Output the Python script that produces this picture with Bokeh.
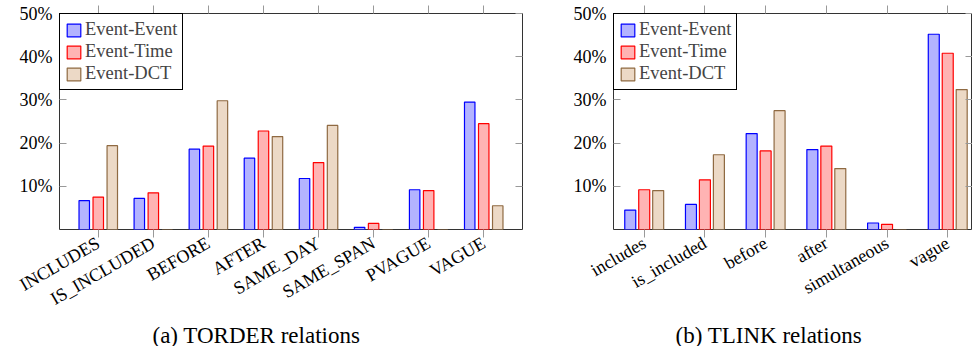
import math
from bokeh.plotting import figure
from bokeh.models import (Range1d, FixedTicker, LinearAxis, Title, Legend,
                          LegendItem, ColumnDataSource)
from bokeh.transform import dodge
from bokeh.layouts import row
from bokeh.embed import file_html
from bokeh.resources import INLINE

# ---- data ----
torder_cats = ["INCLUDES", "IS_INCLUDED", "BEFORE", "AFTER", "SAME_DAY",
               "SAME_SPAN", "PVAGUE", "VAGUE"]
torder_ee = [6.7, 7.2, 18.6, 16.5, 11.8, 0.5, 9.2, 29.5]
torder_et = [7.5, 8.5, 19.3, 22.8, 15.5, 1.4, 9.0, 24.5]
torder_dct = [19.4, 0.0, 29.8, 21.5, 24.1, 0.0, 0.0, 5.5]

tlink_cats = ["includes", "is_included", "before", "after", "simultaneous", "vague"]
tlink_ee = [4.5, 5.8, 22.2, 18.5, 1.5, 45.2]
tlink_et = [9.2, 11.5, 18.2, 19.3, 1.2, 40.8]
tlink_dct = [9.0, 17.3, 27.5, 14.1, 0.0, 32.4]

y_ticks = [10, 20, 30, 40, 50]
y_tick_labels = {t: f"{t}%" for t in y_ticks}
series_names = ["Event-Event", "Event-Time", "Event-DCT"]
captions = ["(a) TORDER relations", "(b) TLINK relations"]

FILLS = ["#b3b3ff", "#ffb3b3", "#ecd9c6"]
LINES = ["#0000ff", "#ff0000", "#8f6a42"]
FONT = "Liberation Serif"
TICK_COLOR = "#999999"


def make(cats, ee, et, dct, caption, x_start, x_end, off, width, fw,
         mbl, mbr, cap_offset, cap_standoff):
    n = len(cats)
    p = figure(frame_width=fw, frame_height=216,
               x_range=Range1d(x_start, x_end), y_range=Range1d(0, 50),
               toolbar_location=None, output_backend="svg",
               min_border_left=mbl, min_border_right=mbr,
               min_border_top=13, min_border_bottom=116)
    p.grid.visible = False
    p.outline_line_color = "#333333"
    p.outline_line_width = 1
    p.outline_line_alpha = 1
    p.background_fill_color = "white"
    p.border_fill_color = "white"

    src = ColumnDataSource(dict(x=list(range(n)), ee=ee, et=et, dct=dct))
    rs = []
    for i, col in enumerate(["ee", "et", "dct"]):
        r = p.vbar(x=dodge("x", (i - 1) * off, range=p.x_range), top=col,
                   width=width, source=src, fill_color=FILLS[i],
                   line_color=LINES[i], line_width=1.2)
        rs.append(r)

    xt = FixedTicker(ticks=list(range(n)))
    xa = p.xaxis[0]
    xa.ticker = xt
    xa.major_label_overrides = {i: c for i, c in enumerate(cats)}
    xa.major_label_orientation = math.pi / 6
    xa.major_label_text_font = FONT
    xa.major_label_text_font_size = "18px"
    xa.major_label_text_color = "black"
    xa.major_label_standoff = 4
    xa.major_tick_in = 0
    xa.major_tick_out = 8
    xa.major_tick_line_color = TICK_COLOR
    xa.minor_tick_line_color = None
    xa.axis_line_color = None

    ta = LinearAxis(ticker=xt, major_label_text_font_size="0px",
                    major_label_standoff=0, major_tick_in=0, major_tick_out=8,
                    major_tick_line_color=TICK_COLOR, minor_tick_line_color=None,
                    axis_line_color=None)
    ta.major_label_overrides = {i: "" for i in range(n)}
    p.add_layout(ta, "above")

    yt = FixedTicker(ticks=y_ticks)
    ya = p.yaxis[0]
    ya.ticker = yt
    ya.major_label_overrides = y_tick_labels
    ya.major_label_text_font = FONT
    ya.major_label_text_font_size = "18px"
    ya.major_label_text_color = "black"
    ya.major_label_standoff = 7
    ya.major_tick_in = 7
    ya.major_tick_out = 0
    ya.major_tick_line_color = TICK_COLOR
    ya.minor_tick_line_color = None
    ya.axis_line_color = None

    ra = LinearAxis(ticker=yt, major_label_text_font_size="0px",
                    major_label_standoff=0, major_tick_in=7, major_tick_out=0,
                    major_tick_line_color=TICK_COLOR, minor_tick_line_color=None,
                    axis_line_color=None)
    ra.major_label_overrides = {t: "" for t in y_ticks}
    p.add_layout(ra, "right")

    legend = Legend(items=[LegendItem(label=series_names[i], renderers=[rs[i]])
                           for i in range(3)],
                    location="top_left", margin=0, padding=5, spacing=1,
                    label_height=17, glyph_width=17, glyph_height=16,
                    label_standoff=3, label_text_font=FONT,
                    label_text_font_size="18.5px", border_line_color="black",
                    border_line_width=1, border_line_alpha=1,
                    background_fill_alpha=1)
    p.add_layout(legend)

    p.add_layout(Title(text=caption, align="left", offset=cap_offset,
                       text_font=FONT, text_font_size="23px",
                       text_font_style="normal", text_color="black",
                       standoff=cap_standoff), "below")
    return p


p1 = make(torder_cats, torder_ee, torder_et, torder_dct, captions[0],
          -0.704, 7.704, 0.2545, 0.19, 463, 59, 10, 93, 0)
p2 = make(tlink_cats, tlink_ee, tlink_et, tlink_dct, captions[1],
          -0.506, 5.408, 0.23, 0.181, 359, 81, 0, 62, 22)

layout = row(p1, p2)
open("out.html", "w").write(file_html(layout, INLINE))
